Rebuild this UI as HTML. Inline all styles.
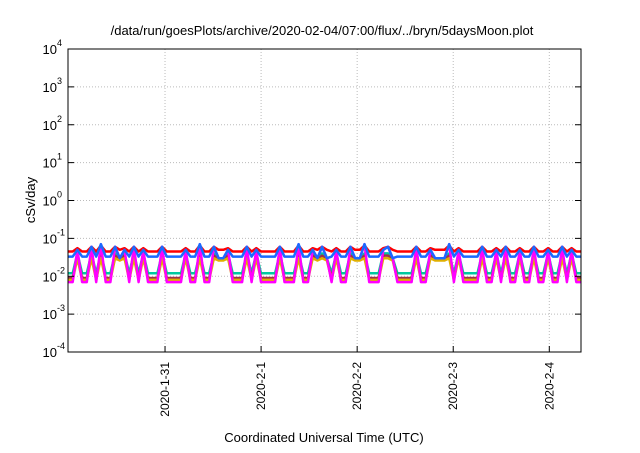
<!DOCTYPE html>
<html><head><meta charset="utf-8"><style>
body{margin:0;background:#fff}
svg text{font-family:"Liberation Sans",sans-serif;fill:#000}
</style></head><body>
<svg id="chart" width="640" height="448" xmlns="http://www.w3.org/2000/svg">
<rect width="640" height="448" fill="#fff"/>
<text x="322" y="35" font-size="13" text-anchor="middle">/data/run/goesPlots/archive/2020-02-04/07:00/flux/../bryn/5daysMoon.plot</text>
<g id="grid"></g>
<g id="series"></g>
<rect x="68" y="49" width="513" height="303" fill="none" stroke="#000" stroke-width="1"/>
<g id="axes"></g>
<text transform="translate(35,200) rotate(-90)" font-size="13" text-anchor="middle">cSv/day</text>
<text x="324" y="442" font-size="13" text-anchor="middle">Coordinated Universal Time (UTC)</text>
</svg>
<script>
const xTickLabels=["2020-1-31","2020-2-1","2020-2-2","2020-2-3","2020-2-4"];
const xTickDays=[1,2,3,4,5];
const yTickExps=[4,3,2,1,0,-1,-2,-3,-4];
const magenta=[.007,.007,.05,.007,.007,.06,.007,.07,.007,.007,
.06,.03,.05,.007,.06,.007,.05,.007,.007,.007,
.06,.007,.007,.007,.007,.05,.007,.007,.07,.007,
.007,.06,.03,.03,.05,.007,.007,.007,.06,.007,
.05,.007,.007,.007,.007,.06,.007,.007,.007,.07,
.007,.007,.05,.03,.06,.03,.007,.05,.007,.007,
.06,.03,.03,.07,.007,.007,.007,.05,.06,.03,
.007,.007,.007,.007,.06,.007,.007,.05,.03,.03,
.03,.07,.007,.05,.007,.007,.007,.007,.06,.007,
.007,.05,.007,.06,.007,.007,.05,.007,.007,.06,
.007,.007,.05,.007,.007,.06,.007,.05,.007,.007];
const blue=[.033,.033,.05,.033,.033,.06,.033,.07,.033,.033,
.06,.03,.05,.033,.06,.033,.05,.033,.033,.033,
.06,.033,.033,.033,.033,.05,.033,.033,.07,.033,
.033,.06,.03,.03,.05,.033,.033,.033,.06,.033,
.05,.033,.033,.033,.033,.06,.033,.033,.033,.07,
.033,.033,.05,.03,.06,.03,.033,.05,.033,.033,
.06,.03,.03,.07,.033,.033,.033,.05,.06,.03,
.033,.033,.033,.033,.06,.033,.033,.05,.03,.03,
.03,.07,.033,.05,.033,.033,.033,.033,.06,.033,
.033,.05,.033,.06,.033,.033,.05,.033,.033,.06,
.033,.033,.05,.033,.033,.06,.033,.05,.033,.033];
const red=[.045,.045,.055,.045,.045,.06,.045,.065,.045,.045,
.06,.05,.055,.045,.06,.045,.055,.045,.045,.045,
.06,.045,.045,.045,.045,.055,.045,.045,.065,.045,
.045,.06,.05,.05,.055,.045,.045,.045,.06,.045,
.055,.045,.045,.045,.045,.06,.045,.045,.045,.065,
.045,.045,.055,.05,.06,.05,.045,.055,.045,.045,
.06,.05,.05,.065,.045,.045,.045,.055,.06,.05,
.045,.045,.045,.045,.06,.045,.045,.055,.05,.05,
.05,.065,.045,.055,.045,.045,.045,.045,.06,.045,
.045,.055,.045,.06,.045,.045,.055,.045,.045,.06,
.045,.045,.055,.045,.045,.06,.045,.055,.045,.045];
const teal=[.012,.012,.04,.012,.012,.04,.012,.04,.012,.012,
.04,.03,.04,.012,.04,.012,.04,.012,.012,.012,
.04,.012,.012,.012,.012,.04,.012,.012,.04,.012,
.012,.04,.03,.03,.04,.012,.012,.012,.04,.012,
.04,.012,.012,.012,.012,.04,.012,.012,.012,.04,
.012,.012,.04,.03,.04,.03,.012,.04,.012,.012,
.04,.03,.03,.04,.012,.012,.012,.04,.04,.03,
.012,.012,.012,.012,.04,.012,.012,.04,.03,.03,
.03,.04,.012,.04,.012,.012,.012,.012,.04,.012,
.012,.04,.012,.04,.012,.012,.04,.012,.012,.04,
.012,.012,.04,.012,.012,.04,.012,.04,.012,.012];
const brown=[.009,.009,.035,.009,.009,.035,.009,.035,.009,.009,
.035,.028,.035,.009,.035,.009,.035,.009,.009,.009,
.035,.009,.009,.009,.009,.035,.009,.009,.035,.009,
.009,.035,.028,.028,.035,.009,.009,.009,.035,.009,
.035,.009,.009,.009,.009,.035,.009,.009,.009,.035,
.009,.009,.035,.028,.035,.028,.009,.035,.009,.009,
.035,.028,.028,.035,.009,.009,.009,.035,.035,.028,
.009,.009,.009,.009,.035,.009,.009,.035,.028,.028,
.028,.035,.009,.035,.009,.009,.009,.009,.035,.009,
.009,.035,.009,.035,.009,.009,.035,.009,.009,.035,
.009,.009,.035,.009,.009,.035,.009,.035,.009,.009];
const yellow=[.008,.008,.03,.008,.008,.03,.008,.03,.008,.008,
.03,.026,.03,.008,.03,.008,.03,.008,.008,.008,
.03,.008,.008,.008,.008,.03,.008,.008,.03,.008,
.008,.03,.026,.026,.03,.008,.008,.008,.03,.008,
.03,.008,.008,.008,.008,.03,.008,.008,.008,.03,
.008,.008,.03,.026,.03,.026,.008,.03,.008,.008,
.03,.026,.026,.03,.008,.008,.008,.03,.03,.026,
.008,.008,.008,.008,.03,.008,.008,.03,.026,.026,
.026,.03,.008,.03,.008,.008,.008,.008,.03,.008,
.008,.03,.008,.03,.008,.008,.03,.008,.008,.03,
.008,.008,.03,.008,.008,.03,.008,.03,.008,.008];
const startDay=-0.01, endDay=5.33;
const L=68,R=581,T=49,B=352;
function xScale(d){return L+(d-startDay)/(endDay-startDay)*(R-L);}
function yScale(v){return T+(4-Math.log10(v))/8*(B-T);}
const NS="http://www.w3.org/2000/svg";
function mk(tag,attrs,parent){const e=document.createElementNS(NS,tag);for(const k in attrs)e.setAttribute(k,attrs[k]);parent.appendChild(e);return e;}
const grid=document.getElementById('grid'),axes=document.getElementById('axes'),ser=document.getElementById('series');
yTickExps.forEach(function(p){
  const y=yScale(Math.pow(10,p));
  if(p<4&&p>-4){const g=mk('line',{x1:L,x2:R,y1:y,y2:y,stroke:'#bbb','stroke-dasharray':'1,2'},grid);
  
  }
  const t1=mk('line',{x1:L,x2:L+6,y1:y,y2:y,stroke:'#000'},axes);
  
  
  const t2=mk('line',{x1:R,x2:R-6,y1:y,y2:y,stroke:'#000'},axes);
  
  
  const tx=mk('text',{x:57,y:y+5,'font-size':'13','text-anchor':'end'},axes);
  
  
  tx.textContent='10';
  const sup=mk('text',{x:57,y:y-3,'font-size':'9'},axes);
  
  
  sup.textContent=String(p);
});
xTickDays.forEach(function(d,i){
  const x=xScale(d);
  const g=mk('line',{x1:x,x2:x,y1:T,y2:B,stroke:'#bbb','stroke-dasharray':'1,2'},grid);
  
  
  const t=mk('line',{x1:x,x2:x,y1:B,y2:B-6,stroke:'#000'},axes);
  
  
  const tx=mk('text',{transform:'translate('+(x+4)+','+(B+10)+') rotate(-90)','font-size':'12','text-anchor':'end'},axes);
  
  
  tx.textContent=xTickLabels[i];
});
const seriesList=[[red,'#ff0000','series-red'],[teal,'#00c8a0','series-teal'],[brown,'#a0304a','series-brown'],[yellow,'#e0b000','series-yellow'],[magenta,'#ff00ff','series-magenta'],[blue,'#1a6aff','series-blue']];
seriesList.forEach(function(s){
  const vals=s[0];
  const pts=vals.map(function(v,i){return xScale(startDay+i*(endDay-startDay)/(vals.length-1)).toFixed(1)+','+yScale(v).toFixed(1);}).join(' ');
  const pl=mk('polyline',{points:pts,fill:'none',stroke:s[1],'stroke-width':'2.5','stroke-linejoin':'round'},ser);
  
  
});
</script>
</body></html>
